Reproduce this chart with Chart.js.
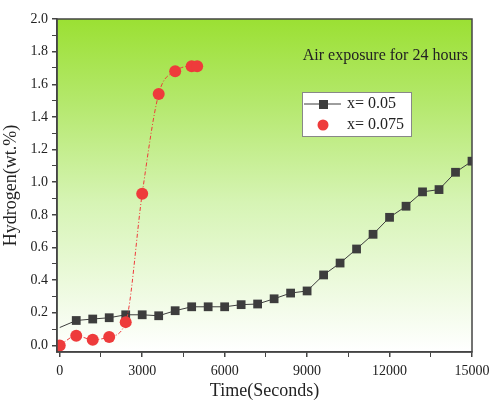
<!DOCTYPE html>
<html>
<head>
<meta charset="utf-8">
<script src="https://cdn.jsdelivr.net/npm/chart.js@4"></script>
<style>
  body { margin: 0; background: #fff; }
  #wrap { width: 491px; height: 406px; }
</style>
</head>
<body>
<div id="wrap"><canvas id="chart" width="491" height="406"></canvas></div>
<script>
// data
const timeA = [0, 600, 1200, 1800, 2400, 3000, 3600, 4200, 4800, 5400, 6000, 6600, 7200,
               7800, 8400, 9000, 9600, 10200, 10800, 11400, 12000, 12600, 13200, 13800, 14400, 15000];
const hydrogenA = [0.11, 0.153, 0.162, 0.17, 0.188, 0.188, 0.182, 0.213, 0.237, 0.237, 0.237, 0.25, 0.254,
                   0.286, 0.321, 0.334, 0.432, 0.505, 0.591, 0.681, 0.785, 0.853, 0.941, 0.955, 1.061, 1.129];
const timeB = [0, 600, 1200, 1800, 2400, 3000, 3600, 4200, 4800, 5000];
const hydrogenB = [0, 0.06, 0.035, 0.052, 0.143, 0.93, 1.54, 1.68, 1.71, 1.71];
const seriesNames = ['x= 0.05', 'x= 0.075'];
const xTicks = [0, 1500, 3000, 4500, 6000, 7500, 9000, 10500, 12000, 13500, 15000];
const yTicks = [0, 0.1, 0.2, 0.3, 0.4, 0.5, 0.6, 0.7, 0.8, 0.9, 1.0, 1.1, 1.2, 1.3, 1.4, 1.5, 1.6, 1.7, 1.8, 1.9, 2.0];
const note = 'Air exposure for 24 hours';

const grey = '#3d3d3d';
const red = '#ee3b3b';
const serif = '"Liberation Serif", "Times New Roman", serif';

const pts = (xs, ys) => xs.map((x, i) => ({ x: x, y: ys[i] }));

// green-to-white fill behind the plot
const backdrop = {
  id: 'backdrop',
  beforeDraw(chart) {
    const a = chart.chartArea;
    const ctx = chart.ctx;
    const g = ctx.createLinearGradient(0, a.top, 0, a.bottom);
    g.addColorStop(0, '#9be033');
    g.addColorStop(0.25, '#b4e86c');
    g.addColorStop(0.55, '#d6f4b4');
    g.addColorStop(1, '#ffffff');
    ctx.save();
    ctx.fillStyle = g;
    ctx.fillRect(a.left, a.top, a.right - a.left, a.bottom - a.top);
    ctx.restore();
  }
};

// frame, note and the boxed legend inside the plot
const extras = {
  id: 'extras',
  afterDraw(chart) {
    const a = chart.chartArea;
    const ctx = chart.ctx;
    ctx.save();
    ctx.strokeStyle = '#444';
    ctx.lineWidth = 1.5;
    ctx.strokeRect(a.left, a.top, a.right - a.left, a.bottom - a.top);

    ctx.fillStyle = '#222';
    ctx.font = '16px ' + serif;
    ctx.textBaseline = 'middle';
    ctx.textAlign = 'right';
    ctx.fillText(note, 468, 56);

    // legend box
    ctx.fillStyle = '#fff';
    ctx.fillRect(302, 92, 109, 44);
    ctx.strokeStyle = '#888';
    ctx.lineWidth = 1;
    ctx.strokeRect(302.5, 92.5, 109, 44);

    ctx.strokeStyle = grey;
    ctx.beginPath();
    ctx.moveTo(304, 104);
    ctx.lineTo(341, 104);
    ctx.stroke();
    ctx.fillStyle = grey;
    ctx.fillRect(319, 100, 9, 9);

    ctx.fillStyle = red;
    ctx.beginPath();
    ctx.arc(323, 125, 5.5, 0, Math.PI * 2);
    ctx.fill();

    ctx.fillStyle = '#222';
    ctx.textAlign = 'left';
    ctx.fillText(seriesNames[0], 347, 104);
    ctx.fillText(seriesNames[1], 347, 125);
    ctx.restore();
  }
};

new Chart(document.getElementById('chart'), {
  type: 'scatter',
  data: {
    datasets: [
      {
        label: seriesNames[1],
        data: pts(timeB, hydrogenB),
        showLine: true,
        borderColor: red,
        borderWidth: 1,
        borderDash: [4, 2, 1, 2],
        cubicInterpolationMode: 'monotone',
        pointStyle: 'circle',
        pointRadius: 6,
        pointBackgroundColor: red,
        pointBorderWidth: 0,
        clip: 0,
        order: 0
      },
      {
        label: seriesNames[0],
        data: pts(timeA, hydrogenA),
        showLine: true,
        borderColor: grey,
        borderWidth: 1,
        pointStyle: 'rect',
        pointRadius: ctx => ctx.dataIndex === 0 ? 0 : 6.2,
        pointBackgroundColor: grey,
        pointBorderWidth: 0,
        clip: 0,
        order: 1
      }
    ]
  },
  options: {
    responsive: false,
    animation: false,
    layout: { padding: { left: 0, right: 19, top: 19, bottom: 0 } },
    plugins: {
      legend: { display: false },
      tooltip: { enabled: false }
    },
    scales: {
      x: {
        type: 'linear',
        min: -100,
        max: 15000,
        afterBuildTicks: s => { s.ticks = xTicks.map(v => ({ value: v })); },
        afterFit: s => { s.height = 54; s.paddingLeft = 0; s.paddingRight = 0; },
        ticks: {
          autoSkip: false,
          maxRotation: 0,
          padding: 6,
          color: '#222',
          font: { family: serif, size: 14 },
          callback: v => (v % 3000 === 0 ? String(v) : '')
        },
        grid: {
          drawOnChartArea: false,
          tickLength: 5,
          tickColor: '#444',
          lineWidth: c => (c.tick && c.tick.value % 3000 === 0 ? 1.5 : 1)
        },
        border: { color: '#444', width: 1.5 },
        title: {
          display: true,
          text: 'Time(Seconds)',
          color: '#222',
          font: { family: serif, size: 18 },
          padding: { top: 0, bottom: 4 }
        }
      },
      y: {
        min: -0.04,
        max: 2.0,
        afterBuildTicks: s => { s.ticks = yTicks.map(v => ({ value: v })); },
        afterFit: s => { s.width = 57; s.paddingTop = 0; s.paddingBottom = 0; },
        ticks: {
          autoSkip: false,
          padding: 4,
          color: '#222',
          font: { family: serif, size: 14 },
          callback: v => (Math.round(v * 10) % 2 === 0 ? v.toFixed(1) : '')
        },
        grid: {
          drawOnChartArea: false,
          tickLength: 5,
          tickColor: '#444',
          lineWidth: c => (c.tick && Math.round(c.tick.value * 10) % 2 === 0 ? 1.5 : 1)
        },
        border: { color: '#444', width: 1.5 },
        title: {
          display: true,
          text: 'Hydrogen(wt.%)',
          color: '#222',
          font: { family: serif, size: 18 },
          padding: { top: 0, bottom: 0 }
        }
      }
    }
  },
  plugins: [backdrop, extras]
});
</script>
</body>
</html>
